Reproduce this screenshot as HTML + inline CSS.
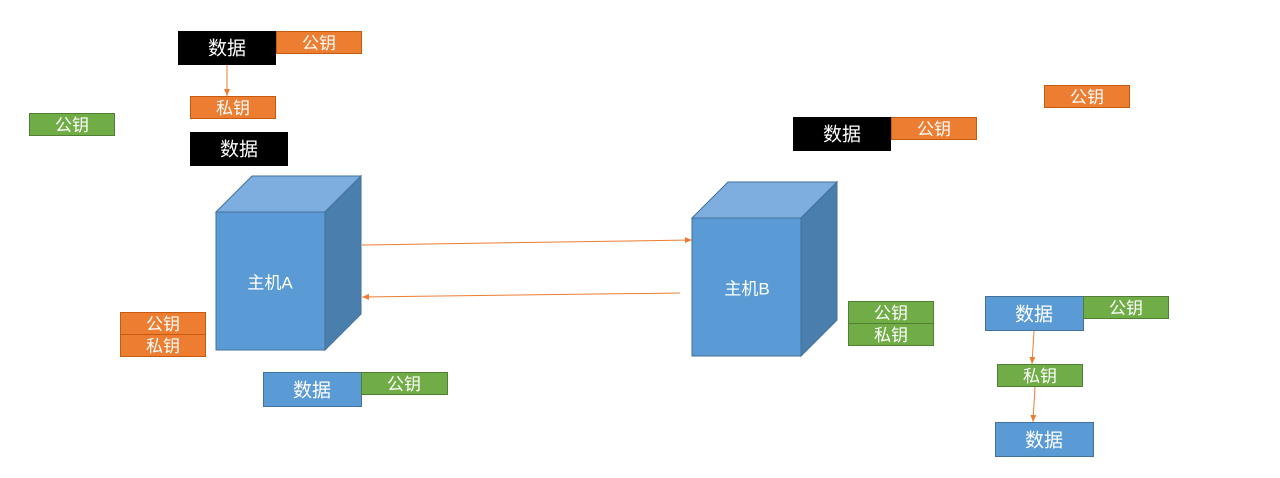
<!DOCTYPE html>
<html><head><meta charset="utf-8"><style>
html,body{margin:0;padding:0;background:#fff;}
svg{display:block}
text{font-family:"Liberation Sans","Noto Sans CJK SC",sans-serif;fill:#fff;text-anchor:middle;dominant-baseline:central}
</style></head><body>
<svg width="1280" height="478" viewBox="0 0 1280 478" xmlns="http://www.w3.org/2000/svg">
<defs>
<marker id="ah" markerWidth="8" markerHeight="8" refX="7" refY="4" orient="auto" markerUnits="userSpaceOnUse">
<path d="M0,1 L7,4 L0,7 z" fill="#ED7D31"/></marker>
</defs>
<g stroke-width="1">
<rect x="178" y="31" width="98" height="34" fill="#000"/><text x="227" y="49" font-size="19">数据</text>
<rect x="276.5" y="31.5" width="85" height="22" fill="#ED7D31" stroke="#C55A11"/><text x="319" y="43.5" font-size="17">公钥</text>
<line x1="227" y1="65" x2="227" y2="96" stroke="#ED7D31" marker-end="url(#ah)"/>
<rect x="190.5" y="96.5" width="85" height="22" fill="#ED7D31" stroke="#C55A11"/><text x="233" y="108.5" font-size="17">私钥</text>
<rect x="29.5" y="113.5" width="85" height="22" fill="#70AD47" stroke="#507E32"/><text x="72" y="125.5" font-size="17">公钥</text>
<rect x="190" y="132" width="98" height="34" fill="#000"/><text x="239" y="150" font-size="19">数据</text>
<polygon points="216,212 252,176 361,176 325,212" fill="#7DAEDF" stroke="#41719C"/>
<polygon points="325,212 361,176 361,314 325,350" fill="#4A7EAD" stroke="#41719C"/>
<rect x="216" y="212" width="109" height="138" fill="#5B9BD5" stroke="#41719C"/>
<text x="270" y="283" font-size="17">主机A</text>
<line x1="362" y1="245" x2="692" y2="240" stroke="#ED7D31" marker-end="url(#ah)"/>
<line x1="680" y1="293" x2="362" y2="297" stroke="#ED7D31" marker-end="url(#ah)"/>
<polygon points="692,218 728,182 837,182 801,218" fill="#7DAEDF" stroke="#41719C"/>
<polygon points="801,218 837,182 837,320 801,356" fill="#4A7EAD" stroke="#41719C"/>
<rect x="692" y="218" width="109" height="138" fill="#5B9BD5" stroke="#41719C"/>
<text x="747" y="289" font-size="17">主机B</text>
<rect x="120.5" y="312.5" width="85" height="22" fill="#ED7D31" stroke="#C55A11"/><text x="163" y="324.5" font-size="17">公钥</text>
<rect x="120.5" y="334.5" width="85" height="22" fill="#ED7D31" stroke="#C55A11"/><text x="163" y="346.5" font-size="17">私钥</text>
<rect x="263.5" y="372.5" width="98" height="34" fill="#5B9BD5" stroke="#41719C"/><text x="312" y="391" font-size="19">数据</text>
<rect x="361.5" y="372.5" width="86" height="22" fill="#70AD47" stroke="#507E32"/><text x="404" y="384.5" font-size="17">公钥</text>
<rect x="793" y="117" width="98" height="34" fill="#000"/><text x="842" y="135" font-size="19">数据</text>
<rect x="891.5" y="117.5" width="85" height="22" fill="#ED7D31" stroke="#C55A11"/><text x="934" y="129.5" font-size="17">公钥</text>
<rect x="1044.5" y="85.5" width="85" height="22" fill="#ED7D31" stroke="#C55A11"/><text x="1087" y="97.5" font-size="17">公钥</text>
<rect x="848.5" y="301.5" width="85" height="22" fill="#70AD47" stroke="#507E32"/><text x="891" y="313.5" font-size="17">公钥</text>
<rect x="848.5" y="323.5" width="85" height="22" fill="#70AD47" stroke="#507E32"/><text x="891" y="335.5" font-size="17">私钥</text>
<rect x="985.5" y="296.5" width="98" height="34" fill="#5B9BD5" stroke="#41719C"/><text x="1034" y="315" font-size="19">数据</text>
<rect x="1083.5" y="296.5" width="85" height="22" fill="#70AD47" stroke="#507E32"/><text x="1126" y="308.5" font-size="17">公钥</text>
<line x1="1034" y1="331" x2="1032" y2="364" stroke="#ED7D31" marker-end="url(#ah)"/>
<rect x="997.5" y="364.5" width="85" height="22" fill="#70AD47" stroke="#507E32"/><text x="1040" y="376.5" font-size="17">私钥</text>
<line x1="1035" y1="387" x2="1033" y2="422" stroke="#ED7D31" marker-end="url(#ah)"/>
<rect x="995.5" y="422.5" width="98" height="34" fill="#5B9BD5" stroke="#41719C"/><text x="1044" y="441" font-size="19">数据</text>
</g>
</svg>
</body></html>
